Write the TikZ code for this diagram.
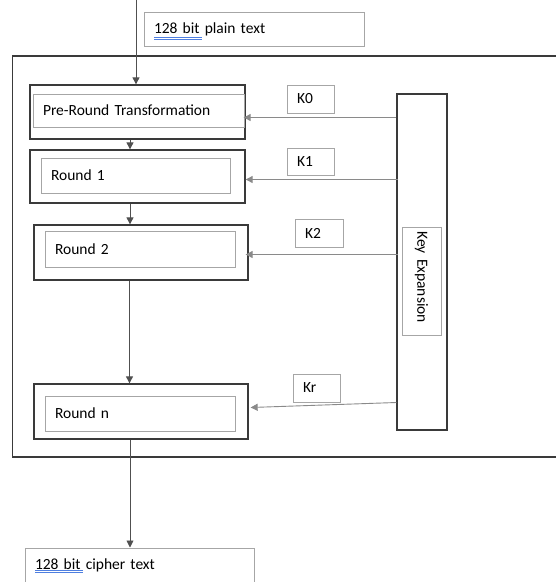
\documentclass[tikz,border=0pt]{standalone}
\usepackage{fontspec}
\setmainfont{Carlito}
\usetikzlibrary{arrows.meta}
\definecolor{outerc}{HTML}{3A3A3A}
\definecolor{innerc}{HTML}{A6A6A6}
\definecolor{flowc}{HTML}{505050}
\definecolor{keyc}{HTML}{8A8A8A}
\definecolor{spellc}{HTML}{4F7FE0}
\tikzset{
  outerbox/.style={draw=outerc, line width=1.3pt, inner sep=0pt},
  innerbox/.style={draw=innerc, line width=1pt, inner xsep=10pt, inner ysep=0pt, align=left, text width=#1, font=\fontsize{15.5}{18}\selectfont},
  textbox/.style={draw=innerc, line width=1pt, inner xsep=10pt, inner ysep=0pt, font=\fontsize{15.5}{18}\selectfont},
  flow/.style={draw=flowc, line width=0.9pt, -{Triangle[length=7pt,width=7pt]}},
  keyflow/.style={draw=keyc, line width=0.9pt, -{Triangle[length=7pt,width=7pt]}},
  spell/.style={draw=spellc, line width=0.8pt},
}
\begin{document}
\begin{tikzpicture}[x=1pt,y=-1pt]
\useasboundingbox (0,0) rectangle (556,582);
% frame
\draw[outerc, line width=1.3pt] (12.5,56) rectangle (575,457);
% plain text
\node[textbox, minimum width=220, minimum height=34, text width=200, align=left] (plain) at (254,29) {128 bit plain text};
\draw[spell] (154,37.5) -- (202,37.5);
\draw[spell] (154,39.7) -- (202,39.7);
% rounds
\node[outerbox, minimum width=215, minimum height=54] (pre) at (137.5,112) {};
\node[innerbox=191, minimum height=33] (prei) at (138.5,110.5) {Pre-Round Transformation};
\node[outerbox, minimum width=215, minimum height=53] (r1) at (137.5,176.5) {};
\node[innerbox=169, minimum height=35] (r1i) at (135.5,175.5) {Round 1};
\node[outerbox, minimum width=214, minimum height=55] (r2) at (141,252.5) {};
\node[innerbox=170, minimum height=36] (r2i) at (140,249) {Round 2};
\node[outerbox, minimum width=214, minimum height=55] (rn) at (141,411.5) {};
\node[innerbox=170, minimum height=35] (rni) at (140,413.5) {Round n};
% cipher text
\node[textbox, minimum width=229, minimum height=36, text width=209, align=left, text height=11pt, text depth=5pt] (cipher) at (139.5,566) {128 bit cipher text};
\draw[spell] (35,570.5) -- (83,570.5);
\draw[spell] (35,572.7) -- (83,572.7);
% key expansion
\node[outerbox, minimum width=50, minimum height=336] (kx) at (422,262) {};
\node[innerbox=100, inner xsep=4pt, minimum height=39, rotate=-90] (kxi) at (421.5,281.5) {Key Expansion};
% key labels
\node[textbox, minimum width=47, minimum height=28, text width=27, align=left] (k0) at (310.5,99) {K0};
\node[textbox, minimum width=47, minimum height=27, text width=27, align=left] (k1) at (310.5,161.5) {K1};
\node[textbox, minimum width=48, minimum height=28, text width=28, align=left] (k2) at (319,233) {K2};
\node[textbox, minimum width=47, minimum height=28, text width=27, align=left] (kr) at (316.5,388) {Kr};
% flow arrows
\coordinate (src) at (136,-2);
\draw[flow] (src) -- (src |- pre.north);
\draw[flow] ([xshift=-7.5pt]pre.south) -- ([xshift=-7.5pt]r1.north);
\draw[flow] ([xshift=-7.5pt]r1.south) -- ([xshift=-7.5pt]r1.south |- r2.north);
\draw[flow] ([xshift=-11.5pt]r2.south) -- ([xshift=-11.5pt]rn.north);
\draw[flow] ([xshift=-11pt]rn.south) -- ([xshift=-11pt]rn.south |- cipher.north);
% key arrows
\draw[keyflow] ([yshift=-4pt]kx.west |- k0.south) -- ([xshift=-2pt,yshift=-4pt]pre.east |- k0.south);
\draw[keyflow] ([xshift=2pt,yshift=-4pt]kx.west |- k1.south) -- ([yshift=-4pt]r1.east |- k1.south);
\draw[keyflow] ([xshift=2pt,yshift=-7pt]kx.west |- k2.south) -- ([xshift=-3pt,yshift=-7pt]r2.east |- k2.south);
\draw[keyflow] (kx.west |- kr.south) -- ([xshift=2pt,yshift=-5pt]rn.east |- kr.south);
\end{tikzpicture}
\end{document}
